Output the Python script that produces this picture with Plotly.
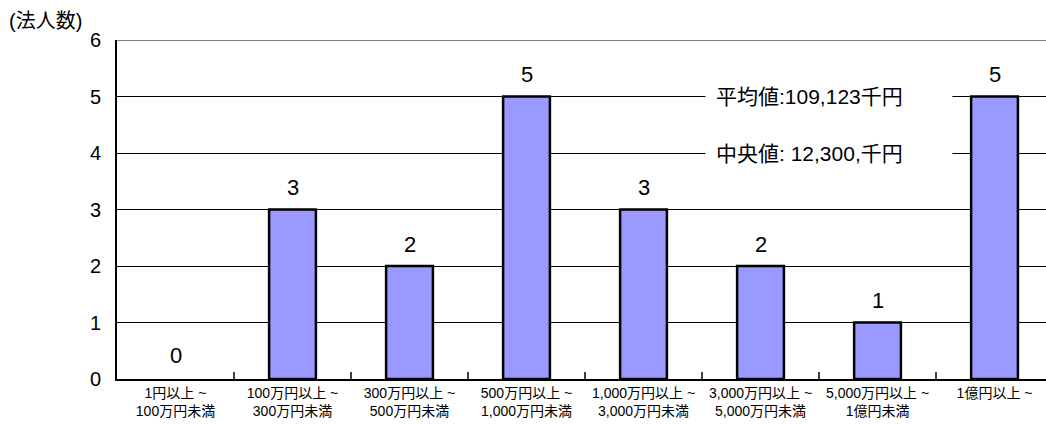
import plotly.graph_objects as go

categories = ["1円以上 ~<br>100万円未満", "100万円以上 ~<br>300万円未満", "300万円以上 ~<br>500万円未満",
              "500万円以上 ~<br>1,000万円未満", "1,000万円以上 ~<br>3,000万円未満", "3,000万円以上 ~<br>5,000万円未満",
              "5,000万円以上 ~<br>1億円未満", "1億円以上 ~"]
counts = [0, 3, 2, 5, 3, 2, 1, 5]
y_ticks = [0, 1, 2, 3, 4, 5, 6]
note_lines = ["平均値:109,123千円", "中央値: 12,300,千円"]
note_levels = [5, 4]

FONT = "Liberation Sans, Arial, Noto Sans CJK JP, sans-serif"

fig = go.Figure()
fig.add_trace(go.Bar(
    x=categories, y=counts, width=0.4,
    marker=dict(color="#9999FF", line=dict(color="black", width=[0 if v == 0 else 2.5 for v in counts])),
    hoverinfo="skip",
))

for c, v in zip(categories, counts):
    fig.add_annotation(x=c, y=v, text=str(v), showarrow=False, yanchor="middle",
                       yshift=22 if v > 0 else 24, font=dict(size=22, color="black", family=FONT))

# white box hiding gridlines behind notes
fig.add_shape(type="rect", xref="x", yref="y", x0=4.53, x1=6.64, y0=3.75, y1=5.2,
              fillcolor="white", line=dict(width=0), layer="above")
for t, lv in zip(note_lines, note_levels):
    fig.add_annotation(x=4.6, y=lv, text=t, showarrow=False, xanchor="left", yanchor="middle",
                       font=dict(size=21, color="black", family=FONT))

# top frame line
fig.add_shape(type="line", xref="paper", yref="y", x0=0, x1=1, y0=6, y1=6,
              line=dict(color="#808080", width=2))

fig.add_annotation(xref="paper", yref="paper", x=-0.118, y=1.055, text="(法人数)", showarrow=False,
                   xanchor="left", yanchor="middle", font=dict(size=20, color="black", family=FONT))

fig.update_layout(
    width=1046, height=424,
    margin=dict(l=117, r=0, t=40, b=45),
    paper_bgcolor="white", plot_bgcolor="white",
    showlegend=False,
    font=dict(family=FONT, color="black"),
)
fig.update_xaxes(
    type="category", categoryorder="array", categoryarray=categories,
    range=[-0.5, 7.44], showgrid=False, zeroline=False,
    showline=True, linecolor="black", linewidth=2,
    tickson="boundaries", ticks="inside", ticklen=7, tickcolor="#404040", tickwidth=1.5,
    tickfont=dict(size=14, family=FONT),
)
fig.update_yaxes(
    range=[0, 6], tickmode="array", tickvals=y_ticks,
    showgrid=True, gridcolor="black", gridwidth=1, zeroline=False,
    showline=True, linecolor="black", linewidth=2,
    ticks="", tickfont=dict(size=20, family=FONT), ticklabelstandoff=10,
)

fig.write_html("out.html")
